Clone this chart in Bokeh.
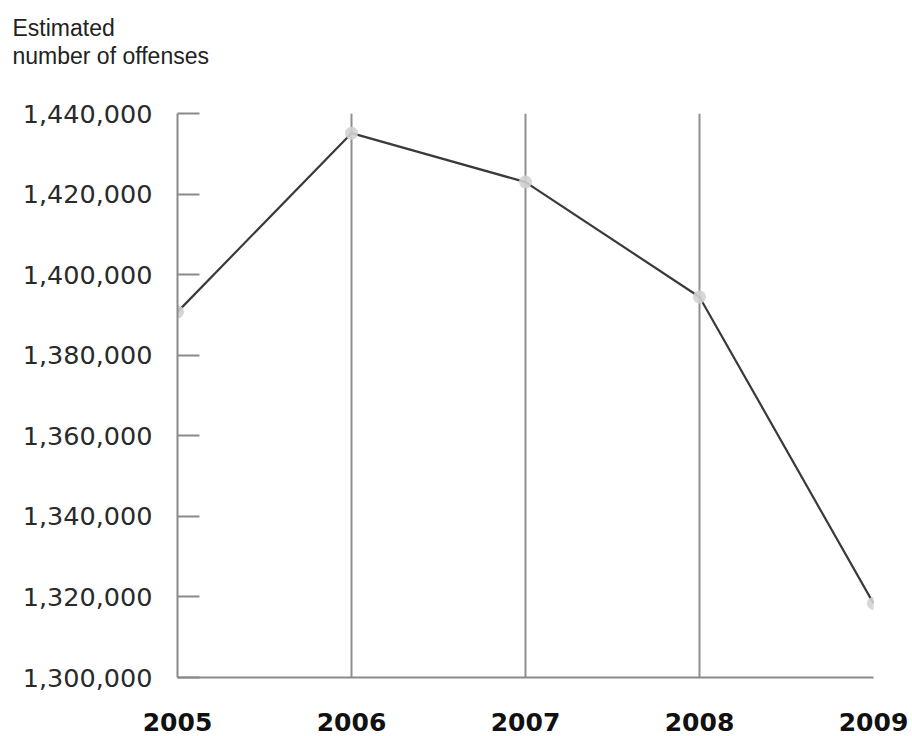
from bokeh.plotting import figure
from bokeh.models import FixedTicker, NumeralTickFormatter, Range1d, ColumnDataSource
from bokeh.embed import file_html
from bokeh.resources import INLINE

# Estimated number of offenses per year
years = [2005, 2006, 2007, 2008, 2009]
offenses = [1390745, 1435123, 1422970, 1394461, 1318398]
y_ticks = [1300000, 1320000, 1340000, 1360000, 1380000, 1400000, 1420000, 1440000]
axis_title = "Estimated\nnumber of offenses\n\u00a0"

src = ColumnDataSource(data=dict(year=years, n=offenses))

p = figure(width=912, height=736, output_backend="svg", toolbar_location=None,
           x_range=Range1d(2005, 2009), y_range=Range1d(1300000, 1440000),
           min_border_left=177, min_border_right=39, min_border_top=112,
           min_border_bottom=59)
p.outline_line_color = None
p.background_fill_color = "white"
p.border_fill_color = "white"

# quantity label sits top-left, above the value axis
# (trailing blank line lifts the two text lines clear of the frame)
p.title.text = axis_title
p.title.align = "left"
p.title.vertical_align = "top"
p.title.offset = -165
p.title.standoff = 28
p.title.text_font = "Liberation Sans"
p.title.text_font_style = "normal"
p.title.text_font_size = "23px"
p.title.text_color = "#222222"
p.title.text_line_height = 1.1

# x axis: bold year labels, no ticks
p.xaxis.ticker = FixedTicker(ticks=years)
p.xaxis.major_tick_line_color = None
p.xaxis.minor_tick_line_color = None
p.xaxis.axis_line_color = "#8a8a8a"
p.xaxis.axis_line_width = 2
p.xaxis.major_label_text_font = "DejaVu Sans"
p.xaxis.major_label_text_font_style = "bold"
p.xaxis.major_label_text_font_size = "25px"
p.xaxis.major_label_text_color = "#111111"
p.xaxis.major_label_standoff = 29

# y axis: ticks pointing into the plot
p.yaxis.ticker = FixedTicker(ticks=y_ticks)
p.yaxis.formatter = NumeralTickFormatter(format="0,0")
p.yaxis.major_tick_in = 22
p.yaxis.major_tick_out = 0
p.yaxis.major_tick_line_color = "#8a8a8a"
p.yaxis.major_tick_line_width = 2
p.yaxis.minor_tick_line_color = None
p.yaxis.axis_line_color = "#8a8a8a"
p.yaxis.axis_line_width = 2
p.yaxis.major_label_text_font = "DejaVu Sans"
p.yaxis.major_label_text_font_size = "25.5px"
p.yaxis.major_label_text_color = "#2a2a2a"
p.yaxis.major_label_standoff = 25

# vertical guides at each year, no horizontal grid
p.ygrid.grid_line_color = None
p.xgrid.ticker = FixedTicker(ticks=years)
p.xgrid.grid_line_color = "#8f8f8f"
p.xgrid.grid_line_width = 2

p.line("year", "n", source=src, line_color="#3a3a3a", line_width=2.2)
p.scatter("year", "n", source=src, size=13, fill_color="#d2d2d2",
          line_color=None, fill_alpha=0.9)

open("out.html", "w").write(file_html(p, INLINE))
